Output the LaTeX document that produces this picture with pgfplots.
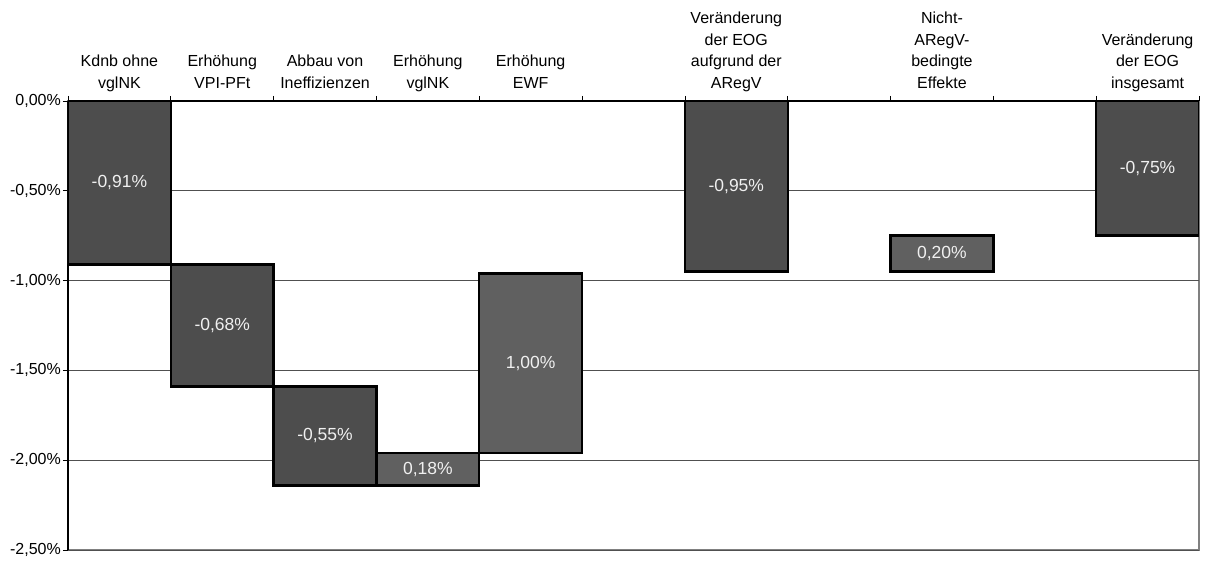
\documentclass[border=0pt]{standalone}
\usepackage{pgfplots}
\pgfplotsset{compat=1.18}
\usepackage{fontspec}
\setmainfont{Liberation Sans}
\definecolor{darkbar}{HTML}{4D4D4D}
\definecolor{lightbar}{HTML}{606060}
\definecolor{gridc}{HTML}{505050}
\definecolor{framec}{HTML}{808080}
\newcommand{\lf}{\fontsize{16}{21.5}\selectfont}
\newcommand{\df}{\fontsize{17.5}{21}\selectfont}
\begin{document}
\begin{tikzpicture}[x=1pt,y=1pt]
\useasboundingbox (0,0) rectangle (1205,560);
\pgfplotsset{
  common/.style={
    at={(68pt,10pt)}, anchor=south west,
    scale only axis, width=1131pt, height=449pt,
    xmin=-0.5, xmax=10.5, ymin=-2.5, ymax=0,
  }
}
\begin{axis}[
  common,
  ybar stacked, stack negative=on previous, bar width=1,
  axis background/.style={draw=framec, line width=1.6pt},
  axis x line*=top, axis y line*=left,
  axis line style={black, line width=1.1pt, -},
  tick align=outside,
  xtick={0,...,10},
  xticklabels={{Kdnb ohne\\vglNK\strut},{Erhöhung\\VPI-PFt\strut},{Abbau von\\Ineffizienzen\strut},{Erhöhung\\vglNK\strut},{Erhöhung\\EWF\strut},{},{Veränderung\\der EOG\\aufgrund der\\ARegV\strut},{},{Nicht-\\ARegV-\\bedingte\\Effekte\strut},{},{Veränderung\\der EOG\\insgesamt\strut}},
  xticklabel pos=upper,
  major x tick style={draw=none},
  minor xtick={-0.5,0.5,...,10.5},
  minor x tick style={black, line width=0.8pt},
  minor tick length=5pt,
  major tick length=5pt,
  xticklabel style={align=center, anchor=south, inner sep=0pt, font=\lf, yshift=1pt},
  ytick={-2.5,-2,-1.5,-1,-0.5,0},
  yticklabels={{-2,50\%},{-2,00\%},{-1,50\%},{-1,00\%},{-0,50\%},{0,00\%}},
  yticklabel style={font=\lf, inner sep=0pt, xshift=-2pt},
  ymajorgrids, grid style={gridc, line width=0.8pt},
  y tick style={black, line width=0.8pt},
]
\addplot[draw=none, fill=none, forget plot] coordinates {(0,0) (1,-0.91) (2,-1.59) (3,-2.14) (4,-1.96) (6,0) (8,-0.95) (10,0)};
\addplot[fill=darkbar, draw=black, line width=2.4pt] coordinates {(0,-0.91) (1,-0.68) (2,-0.55) (3,0) (4,0) (6,-0.95) (8,0) (10,-0.75)};
\addplot[fill=lightbar, draw=black, line width=2.4pt] coordinates {(0,0) (1,0) (2,0) (3,0.18) (4,1.00) (6,0) (8,0.20) (10,0)};
\end{axis}
\begin{axis}[common, hide axis]
\addplot[draw=none, mark=none, nodes near coords, point meta=explicit symbolic,
  nodes near coords style={anchor=center, text=white!94!black, font=\df}]
  coordinates {(0,-0.455) [-0,91\%] (1,-1.25) [-0,68\%] (2,-1.865) [-0,55\%] (3,-2.05) [0,18\%] (4,-1.46) [1,00\%] (6,-0.475) [-0,95\%] (8,-0.85) [0,20\%] (10,-0.375) [-0,75\%]};
\end{axis}
\end{tikzpicture}
\end{document}
